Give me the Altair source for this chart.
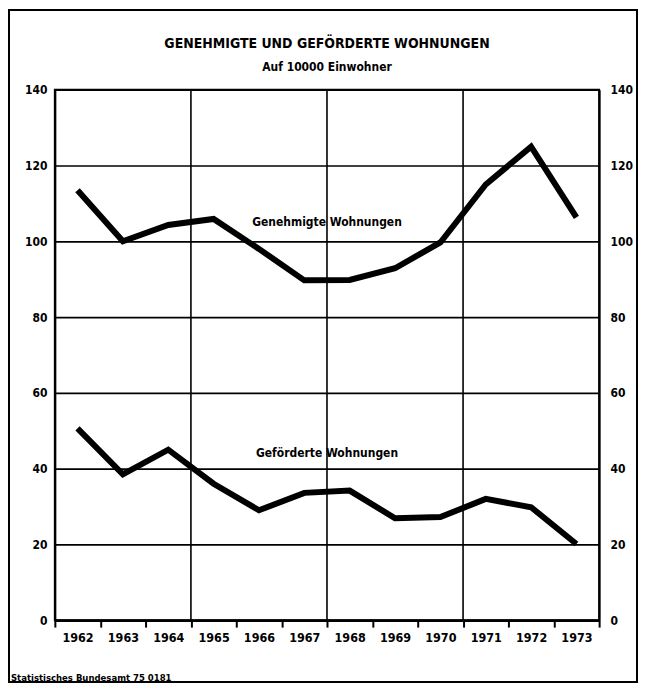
import altair as alt
import pandas as pd

years = ["1962", "1963", "1964", "1965", "1966", "1967",
         "1968", "1969", "1970", "1971", "1972", "1973"]
genehmigte = [113.5, 100.0, 104.3, 105.9, 98.0, 89.7, 89.8, 92.9, 99.7, 115.0, 125.0, 106.3]
gefoerderte = [50.6, 38.5, 45.0, 36.0, 29.0, 33.6, 34.2, 26.9, 27.2, 32.0, 29.8, 20.1]
series_names = ["Genehmigte Wohnungen", "Geförderte Wohnungen"]
label_years = ["1968", "1968"]
label_values = [105.0, 44.0]
grid_years = ["1965", "1968", "1971"]
y_ticks = [0, 20, 40, 60, 80, 100, 120, 140]
title_text = "GENEHMIGTE UND GEFÖRDERTE WOHNUNGEN"
subtitle_text = "Auf 10000 Einwohner"
source_text = "Statistisches Bundesamt 75 0181"

FONT = "Liberation Sans Narrow, DejaVu Sans Condensed, Arial Narrow, Roboto, sans-serif"

rows = []
for name, vals in zip(series_names, [genehmigte, gefoerderte]):
    for yr, v in zip(years, vals):
        rows.append({"year": yr, "value": v, "series": name})
df = pd.DataFrame(rows)
labels_df = pd.DataFrame({"year": label_years, "value": label_values, "text": series_names})
grid_df = pd.DataFrame({"year": grid_years})
src_df = pd.DataFrame({"text": [source_text]})
title_df = pd.DataFrame({"text": [title_text]})
sub_df = pd.DataFrame({"text": [subtitle_text]})

W, H = 546, 532

xscale = alt.Scale(domain=years, paddingInner=0, paddingOuter=0)
yscale = alt.Scale(domain=[0, 140], nice=False)

x_axis = alt.Axis(title=None, labelAngle=0, tickBand="extent", bandPosition=0.5,
                  grid=False, ticks=True, tickSize=7, tickWidth=2, tickColor="black",
                  domainWidth=2.5, labelPadding=4, labelFontSize=12.5)

lines = alt.Chart(df).mark_line(
    color="black", strokeWidth=6, strokeCap="butt", strokeJoin="miter"
).encode(
    x=alt.X("year:O", scale=xscale, sort=years, axis=x_axis),
    y=alt.Y("value:Q", scale=yscale,
            axis=alt.Axis(title=None, values=y_ticks, grid=True, gridColor="black",
                          gridWidth=1.6, ticks=False, labelPadding=8, orient="left")),
    detail="series:N",
)

right_axis = alt.Chart(df).mark_line(opacity=0).encode(
    x=alt.X("year:O", scale=xscale, sort=years, axis=x_axis),
    y=alt.Y("value:Q", scale=yscale,
            axis=alt.Axis(title=None, values=y_ticks, grid=False, ticks=False,
                          labelPadding=11, orient="right")),
    detail="series:N",
)

vgrid = alt.Chart(grid_df).mark_rule(color="black", strokeWidth=1.6).encode(
    x=alt.X("year:O", scale=xscale, sort=years, bandPosition=0, axis=x_axis),
)

texts = alt.Chart(labels_df).mark_text(
    font=FONT, fontSize=12, fontWeight="bold", color="black", baseline="middle"
).encode(
    x=alt.X("year:O", scale=xscale, sort=years, bandPosition=0, axis=x_axis),
    y=alt.Y("value:Q", scale=yscale, axis=None),
    text="text:N",
)

title = alt.Chart(title_df).mark_text(
    font=FONT, fontSize=14, fontWeight="bold", color="black", baseline="middle"
).encode(x=alt.value(W / 2), y=alt.value(-46), text="text:N")

subtitle = alt.Chart(sub_df).mark_text(
    font=FONT, fontSize=12, fontWeight="bold", color="black", baseline="middle"
).encode(x=alt.value(W / 2), y=alt.value(-23), text="text:N")

source = alt.Chart(src_df).mark_text(
    font=FONT, fontSize=9.5, fontWeight="bold", color="black", align="left", baseline="middle"
).encode(
    x=alt.value(-44), y=alt.value(590), text="text:N"
)

frame = alt.Chart(src_df).mark_rect(
    fill=None, stroke="black", strokeWidth=2
).encode(
    x=alt.value(-46), x2=alt.value(W + 38),
    y=alt.value(-80), y2=alt.value(H + 62),
)

chart = alt.layer(lines, right_axis, vgrid, texts, title, subtitle, source, frame).resolve_axis(
    y="independent"
).properties(
    width=W, height=H,
    autosize=alt.AutoSizeParams(type="none"),
    padding={"left": 47, "top": 81, "right": 39, "bottom": 64},
).configure_view(
    stroke="black", strokeWidth=2
).configure_axis(
    labelFont=FONT, labelFontWeight="bold", labelColor="black", labelFontSize=12,
    domainColor="black", domainWidth=2,
)

chart.save("out.html", embed_options={"renderer": "svg", "actions": False})
